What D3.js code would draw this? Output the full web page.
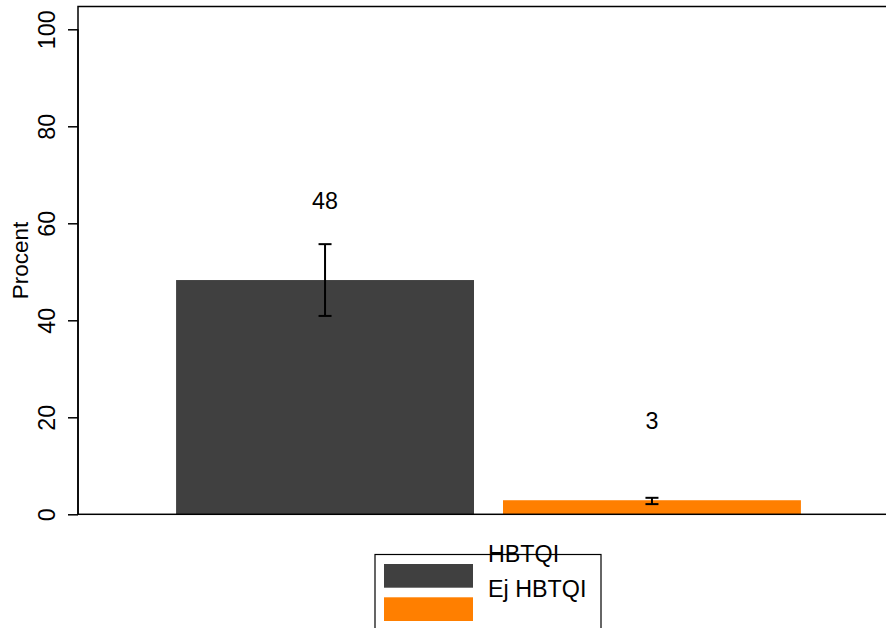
<!DOCTYPE html>
<html>
<head>
<meta charset="utf-8">
<script src="https://cdn.jsdelivr.net/npm/d3@7"></script>
<style>
  html, body { margin: 0; padding: 0; background: #ffffff; }
  svg { display: block; }
  text { font-family: "Liberation Sans", Arial, sans-serif; fill: #000; }
</style>
</head>
<body>
<svg id="chart" width="886" height="628"></svg>
<script>
// ---- data ----
const categories = ["HBTQI", "Ej HBTQI"];
const values = [48.3, 2.9];
const ciLow = [40.9, 2.1];
const ciHigh = [55.7, 3.4];
const valueLabels = ["48", "3"];
const colors = ["#404040", "#FF7F00"];
const yTicks = [0, 20, 40, 60, 80, 100];
const yLabel = "Procent";

// ---- layout ----
const W = 886, H = 628;
const plot = { left: 78, right: 899, top: 6.5, bottom: 514.3 };
const fontSize = 22.5;
const textSize = 23.3;
const labelOffset = 16.4; // value units above the bar value

const svg = d3.select("#chart");

const x = d3.scaleBand()
  .domain(categories)
  .range([plot.left, plot.right])
  .paddingInner(0.0887)
  .paddingOuter(0.3);

const y = d3.scaleLinear()
  .domain([0, 104.7])
  .range([plot.bottom, plot.top]);

const data = categories.map((c, i) => ({
  cat: c, value: values[i], lo: ciLow[i], hi: ciHigh[i], label: valueLabels[i], color: colors[i]
}));

// bars
svg.append("g").selectAll("rect")
  .data(data).join("rect")
  .attr("x", d => x(d.cat))
  .attr("width", x.bandwidth())
  .attr("y", d => y(d.value))
  .attr("height", d => y(0) - y(d.value))
  .attr("fill", d => d.color);

// error bars
const capHalf = 6.5;
const eb = svg.append("g").attr("stroke", "#000").attr("stroke-width", 2);
data.forEach(d => {
  const cx = x(d.cat) + x.bandwidth() / 2;
  eb.append("line").attr("x1", cx).attr("x2", cx).attr("y1", y(d.hi)).attr("y2", y(d.lo));
  eb.append("line").attr("x1", cx - capHalf).attr("x2", cx + capHalf).attr("y1", y(d.hi)).attr("y2", y(d.hi));
  eb.append("line").attr("x1", cx - capHalf).attr("x2", cx + capHalf).attr("y1", y(d.lo)).attr("y2", y(d.lo));
});

// value labels
svg.append("g").selectAll("text")
  .data(data).join("text")
  .attr("x", d => x(d.cat) + x.bandwidth() / 2)
  .attr("y", d => y(d.value + labelOffset))
  .attr("dy", "0.36em")
  .attr("text-anchor", "middle")
  .style("font-size", textSize + "px")
  .text(d => d.label);

// plot box
svg.append("rect")
  .attr("x", plot.left).attr("y", plot.top)
  .attr("width", plot.right - plot.left).attr("height", plot.bottom - plot.top)
  .attr("fill", "none").attr("stroke", "#000").attr("stroke-width", 1.5);

// y axis
const yAxis = svg.append("g")
  .attr("transform", `translate(${plot.left},0)`)
  .call(d3.axisLeft(y).tickValues(yTicks).tickSize(10).tickFormat(d3.format("d")));
yAxis.select(".domain").remove();
yAxis.selectAll(".tick line").attr("stroke", "#000").attr("stroke-width", 1.5);
yAxis.selectAll(".tick text")
  .attr("transform", "rotate(-90)")
  .attr("x", 0).attr("y", -23).attr("dy", null)
  .attr("text-anchor", "middle")
  .style("font-size", textSize + "px")
  .style("font-family", "'Liberation Sans', Arial, sans-serif")
  .attr("fill", "#000");
svg.append("line")
  .attr("x1", plot.left).attr("x2", plot.left)
  .attr("y1", y(0)).attr("y2", y(100))
  .attr("stroke", "#000").attr("stroke-width", 1.5);

// y label
svg.append("text")
  .attr("transform", `translate(28,${(plot.top + plot.bottom) / 2}) rotate(-90)`)
  .attr("text-anchor", "middle")
  .style("font-size", fontSize + "px")
  .text(yLabel);

// legend
const legend = svg.append("g");
legend.append("rect")
  .attr("x", 375).attr("y", 554.5).attr("width", 226).attr("height", 100)
  .attr("fill", "none").attr("stroke", "#000").attr("stroke-width", 1.2);
const swatchY = [564, 597.3];
const textY = [562, 597];
data.forEach((d, i) => {
  legend.append("rect")
    .attr("x", 384).attr("y", swatchY[i]).attr("width", 89).attr("height", 23.7)
    .attr("fill", d.color);
  legend.append("text")
    .attr("x", 488).attr("y", textY[i])
    .style("font-size", textSize + "px")
    .text(d.cat);
});
</script>
</body>
</html>
